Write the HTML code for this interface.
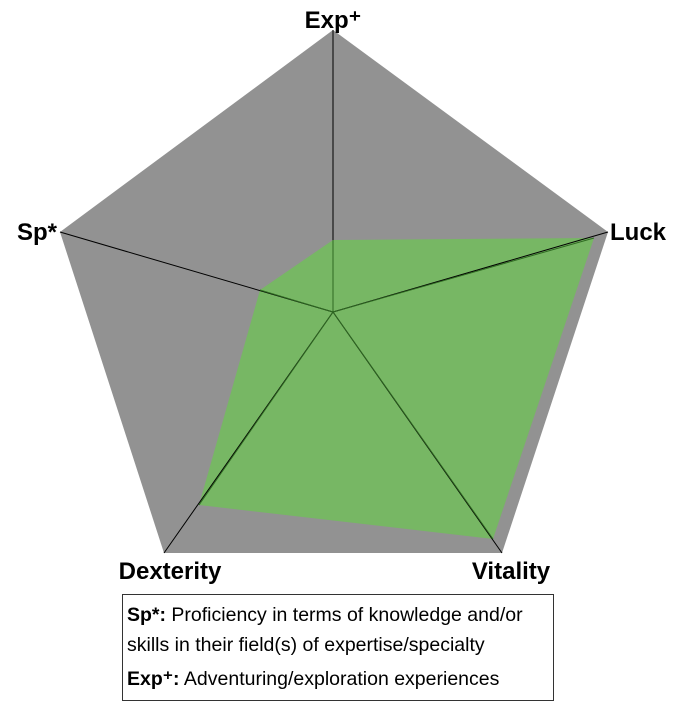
<html><body style="margin:0;background:#fff;width:676px;height:715px;overflow:hidden">
<svg width="676" height="715" style="position:absolute;left:0;top:0">
<polygon points="333,30 608,232 502,553 164,553 60,232" fill="#929292"/>
<polygon points="333,240 594,238 493,539 199,505 260,290" fill="#77b764"/>
<g stroke="#000" stroke-width="1">
<line x1="333" y1="312" x2="333" y2="30"/><line x1="333" y1="312" x2="608" y2="232"/>
<line x1="333" y1="312" x2="502" y2="553"/><line x1="333" y1="312" x2="164" y2="553"/>
<line x1="333" y1="312" x2="60" y2="232"/></g>
<g stroke="#2f6a22" stroke-width="1">
<line x1="333" y1="312" x2="333" y2="240"/><line x1="333" y1="312" x2="594" y2="238"/>
<line x1="333" y1="312" x2="493" y2="539"/><line x1="333" y1="312" x2="199" y2="505"/>
<line x1="333" y1="312" x2="260" y2="290"/></g>
<g font-family="Liberation Sans, sans-serif" font-weight="bold" font-size="24" fill="#000">
<text x="333" y="28" text-anchor="middle">Exp⁺</text>
<text x="610" y="240">Luck</text>
<text x="57" y="240" text-anchor="end">Sp*</text>
<text x="170" y="579" text-anchor="middle">Dexterity</text>
<text x="511" y="579" text-anchor="middle">Vitality</text>
</g>
<rect x="122.5" y="594.5" width="431" height="106" fill="#fff" stroke="#333"/>
<g font-family="Liberation Sans, sans-serif" font-size="19.5" fill="#000">
<text x="127" y="621"><tspan font-weight="bold">Sp*:</tspan> Proficiency in terms of knowledge and/or</text>
<text x="127" y="651">skills in their field(s) of expertise/specialty</text>
<text x="127" y="685"><tspan font-weight="bold">Exp⁺:</tspan> Adventuring/exploration experiences</text>
</g>
</svg></body></html>
